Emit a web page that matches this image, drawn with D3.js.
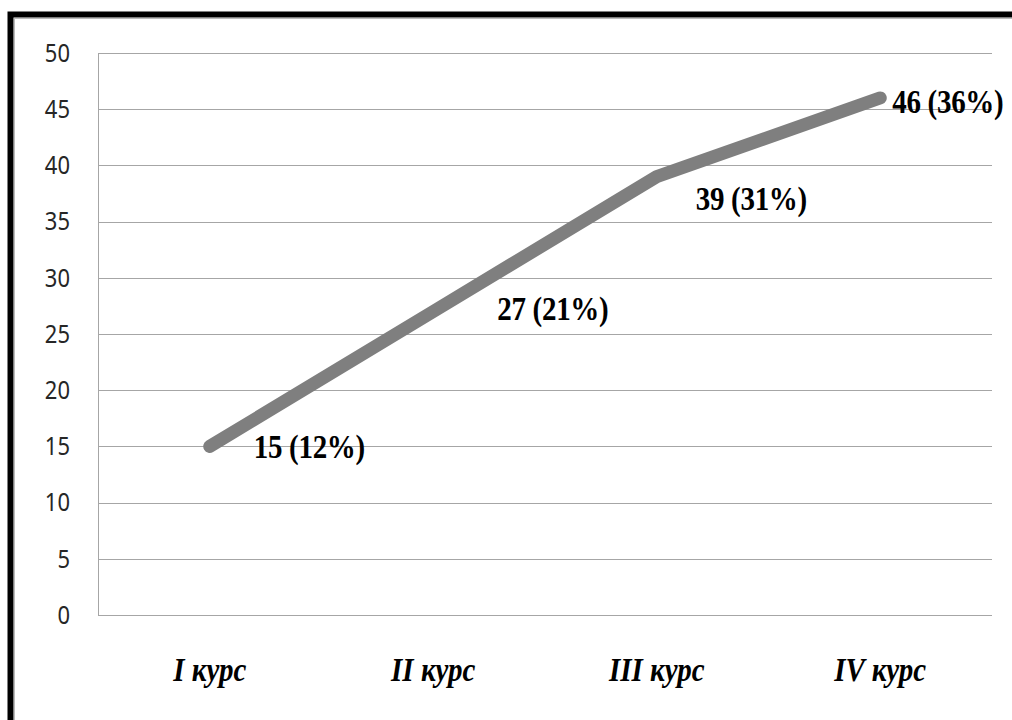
<!DOCTYPE html>
<html><head><meta charset="utf-8">
<script src="https://cdn.jsdelivr.net/npm/d3@7"></script>
<style>body{margin:0;background:#fff;overflow:hidden}</style>
</head><body>
<svg id="c" width="1012" height="720"></svg>
<script>
const categories = ["I курс", "II курс", "III курс", "IV курс"];
const values = [15, 27, 39, 46];
const percents = ["12%", "21%", "31%", "36%"];
const yTicks = [0, 5, 10, 15, 20, 25, 30, 35, 40, 45, 50];

const svg = d3.select("#c");
const m = {left: 98, right: 992, top: 53, bottom: 615};

// frame
svg.append("rect").attr("x", 10.5).attr("y", 14.5).attr("width", 1200).attr("height", 900)
  .attr("fill", "none").attr("stroke", "#000").attr("stroke-width", 6);
svg.append("rect").attr("x", 14.5).attr("y", 18.5).attr("width", 1200).attr("height", 900)
  .attr("fill", "none").attr("stroke", "#bbb").attr("stroke-width", 1);

const x = d3.scaleBand().domain(categories).range([m.left, m.right]);
const y = d3.scaleLinear().domain([0, 50]).range([m.bottom, m.top]);

// gridlines
svg.append("g").selectAll("line").data(yTicks).join("line")
  .attr("x1", m.left).attr("x2", m.right)
  .attr("y1", d => Math.round(y(d)) + 0.5).attr("y2", d => Math.round(y(d)) + 0.5)
  .attr("stroke", "#a6a6a6").attr("stroke-width", 1);
svg.append("line").attr("x1", m.left + 0.5).attr("x2", m.left + 0.5)
  .attr("y1", m.top).attr("y2", m.bottom).attr("stroke", "#a6a6a6");

// y axis labels
const yAxis = d3.axisLeft(y).tickValues(yTicks).tickSize(0).tickPadding(28);
const gy = svg.append("g").attr("transform", `translate(${m.left},0)`).call(yAxis);
gy.select(".domain").remove();
gy.selectAll("text").attr("font-family", "'Noto Sans', sans-serif").attr("font-size", 22)
  .attr("fill", "#262626").attr("transform", "scale(1,1.18)");

// x axis labels
const xAxis = d3.axisBottom(x).tickSize(0).tickPadding(0);
const gx = svg.append("g").attr("transform", `translate(0,${m.bottom})`).call(xAxis);
gx.selectAll(".tick").attr("transform", d => `translate(${x(d) + x.bandwidth() / 2},66)`);
gx.select(".domain").remove();
gx.selectAll("text").attr("dy", null).attr("y", 0).attr("transform", "scale(1,1.15)")
  .attr("font-family", "'Liberation Serif', 'Times New Roman', serif")
  .attr("font-size", 29).attr("font-style", "italic").attr("font-weight", "bold").attr("fill", "#000");

// line
const cx = c => x(c) + x.bandwidth() / 2;
const pts = categories.map((c, i) => [cx(c), y(values[i])]);
svg.append("path").attr("d", d3.line()(pts)).attr("fill", "none")
  .attr("stroke", "#7f7f7f").attr("stroke-width", 13)
  .attr("stroke-linecap", "round").attr("stroke-linejoin", "round");

// data labels
const labelOffsets = [[44, 0], [64, -3], [39, 22], [12, 4]];
svg.append("g").selectAll("text").data(categories).join("text")
  .attr("transform", (c, i) => `translate(${cx(c) + labelOffsets[i][0]},${y(values[i]) + labelOffsets[i][1]}) scale(1,1.13)`)
  .attr("dy", "0.35em")
  .attr("font-family", "'Liberation Serif', 'Times New Roman', serif")
  .attr("font-size", 29).attr("font-weight", "bold").attr("fill", "#000")
  .attr("letter-spacing", -0.3)
  .text((c, i) => `${values[i]} (${percents[i]})`);
</script>
</body></html>
